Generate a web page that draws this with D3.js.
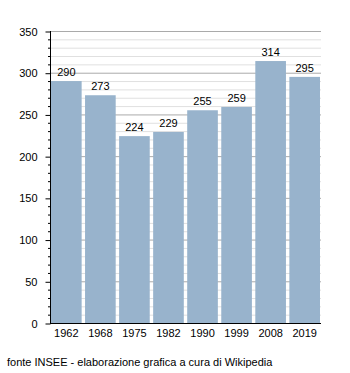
<!DOCTYPE html>
<html><head><meta charset="utf-8">
<script src="https://cdn.jsdelivr.net/npm/d3@7"></script>
<style>body{margin:0;background:#fff}svg{display:block;font-family:"Liberation Sans",Arial,sans-serif}</style>
</head><body><svg id="c" width="350" height="373"></svg>
<script>
const years = ["1962","1968","1975","1982","1990","1999","2008","2019"];
const population = [290,273,224,229,255,259,314,295];
const yMajorTicks = [0,50,100,150,200,250,300,350];
const sourceText = "fonte INSEE - elaborazione grafica a cura di Wikipedia";

(function(){
const svg = d3.select("#c");
const mL = 51, mR = 321, mT = 31, mB = 323;
const x = d3.scaleBand().domain(years).range([mL, mR - 1]).paddingInner(0.1).paddingOuter(0);
const y = d3.scaleLinear().domain([0,350]).range([mB, mT]);
const minor = d3.range(0, 351, 10).filter(v => v % 50 !== 0);

svg.append("g").selectAll("line").data(minor).join("line")
  .attr("x1", mL).attr("x2", mR).attr("y1", d => y(d)+0.5).attr("y2", d => y(d)+0.5)
  .attr("stroke", "#e0e0e0").attr("stroke-width", 1);
svg.append("g").selectAll("line").data(yMajorTicks.filter(d=>d>0)).join("line")
  .attr("x1", mL).attr("x2", mR).attr("y1", d => y(d)+0.5).attr("y2", d => y(d)+0.5)
  .attr("stroke", "#aaaaaa").attr("stroke-width", 1);

svg.append("g").selectAll("rect").data(population).join("rect")
  .attr("x", (d,i) => x(years[i])).attr("width", x.bandwidth())
  .attr("y", d => y(d)).attr("height", d => y(0) - y(d))
  .attr("fill", "#98b3cc");

svg.append("g").selectAll("text").data(population).join("text")
  .attr("x", (d,i) => x(years[i]) + x.bandwidth()/2).attr("y", d => y(d) - 5)
  .attr("text-anchor", "middle").attr("font-size", 11).attr("fill", "#000").text(d => d);

svg.append("g").selectAll("line").data(minor).join("line")
  .attr("x1", mL-3).attr("x2", mL).attr("y1", d => y(d)+0.5).attr("y2", d => y(d)+0.5)
  .attr("stroke", "#000");

const yAxis = d3.axisLeft(y).tickValues(yMajorTicks).tickSize(5).tickPadding(8);
const gy = svg.append("g").attr("transform", `translate(${mL-0.5},0.5)`).call(yAxis);
gy.select(".domain").remove();
gy.selectAll("text").attr("font-size", 11).attr("font-family", "Liberation Sans, Arial, sans-serif").attr("fill","#000");
svg.append("line").attr("x1", mL-0.5).attr("x2", mL-0.5).attr("y1", mT).attr("y2", mB+1).attr("stroke","#000");
svg.append("line").attr("x1", mL-0.5).attr("x2", mR).attr("y1", mB+0.5).attr("y2", mB+0.5).attr("stroke","#000");

const xAxis = d3.axisBottom(x).tickSize(0).tickPadding(6);
const gx = svg.append("g").attr("transform", `translate(0,${mB})`).call(xAxis);
gx.select(".domain").remove();
gx.selectAll("text").attr("font-size", 11).attr("font-family", "Liberation Sans, Arial, sans-serif").attr("fill","#000");

svg.append("text").attr("x", 7).attr("y", 366).attr("font-size", 11).attr("fill","#000").text(sourceText);
})();
</script></body></html>
